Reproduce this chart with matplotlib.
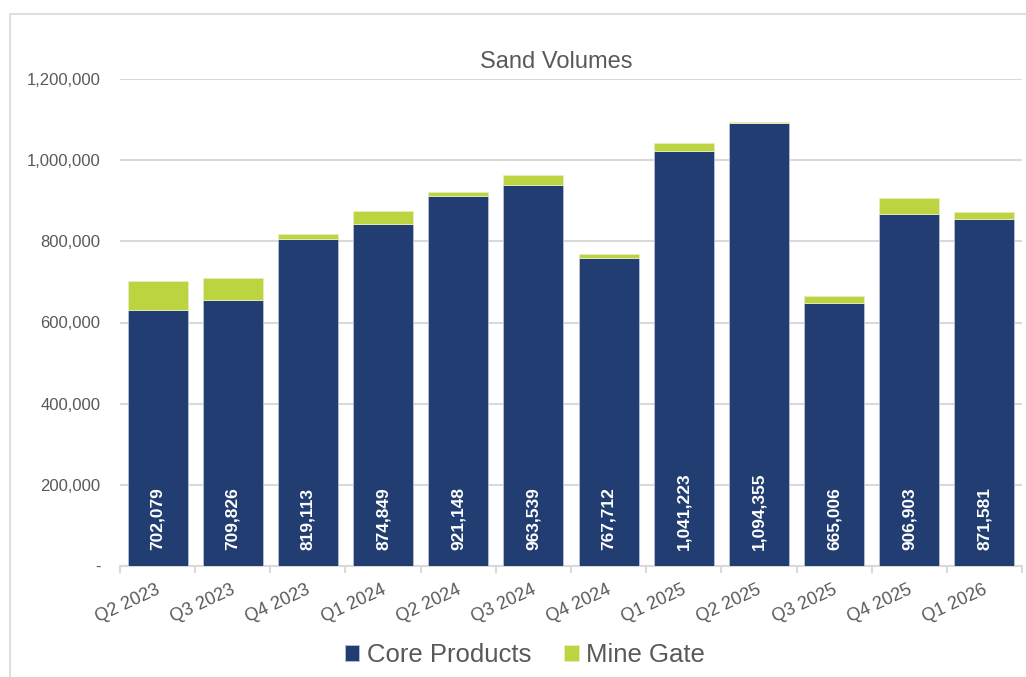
import matplotlib
matplotlib.use("Agg")
import matplotlib.pyplot as plt
import matplotlib.transforms as mtransforms
from matplotlib.patches import Rectangle
from matplotlib.ticker import FuncFormatter, FixedLocator
import numpy as np

plt.rcParams['font.family'] = ['Liberation Sans', 'DejaVu Sans']

quarters = ["Q2 2023", "Q3 2023", "Q4 2023", "Q1 2024", "Q2 2024", "Q3 2024",
            "Q4 2024", "Q1 2025", "Q2 2025", "Q3 2025", "Q4 2025", "Q1 2026"]
core_products = [632000, 655000, 806000, 843000, 912000, 940000,
                 759000, 1023000, 1091000, 649000, 867000, 855000]
mine_gate = [70079, 54826, 13113, 31849, 9148, 23539,
             8712, 18223, 3355, 16006, 39903, 16581]

NAVY = '#213D71'
GREEN = '#BDD441'
GRID = '#D9D9D9'
TXT = '#595959'

fig = plt.figure(figsize=(10.26, 6.77), dpi=100)
fig.patches.append(Rectangle((10/1026, -0.1), 1.2, 1 - 14/677 + 0.1,
                             transform=fig.transFigure, fill=False,
                             edgecolor=GRID, lw=1.2))
ax = fig.add_axes([120/1026, 111/677, 902/1026, 487/677])

x = np.arange(len(quarters))
totals = [c + m for c, m in zip(core_products, mine_gate)]
ax.bar(x, core_products, width=0.8, color=NAVY, edgecolor='#B8C2D6', lw=0.6,
       label='Core Products', zorder=3)
ax.bar(x, mine_gate, width=0.8, bottom=core_products, color=GREEN,
       edgecolor='#E6EEC0', lw=0.6, label='Mine Gate', zorder=3)

for xi, t in zip(x, totals):
    ax.annotate(f"{t:,}", xy=(xi, 0), xytext=(0, 11.5), textcoords='offset points',
                rotation=90, ha='center', va='bottom', color='white',
                fontsize=12.5, fontweight='bold', zorder=5)

ax.set_xlim(-0.5, len(quarters) - 0.5)
ax.set_ylim(0, 1200000)
ax.yaxis.set_major_locator(FixedLocator(np.arange(0, 1200001, 200000)))
ax.yaxis.set_major_formatter(FuncFormatter(lambda v, p: '-' if v == 0 else f"{int(v):,}"))
ax.grid(axis='y', color=GRID, lw=1.5, zorder=0)
ax.set_axisbelow(True)
for s in ['left', 'right', 'top']:
    ax.spines[s].set_visible(False)
ax.spines['bottom'].set_color(GRID)
ax.spines['bottom'].set_linewidth(1.5)
ax.tick_params(axis='y', length=0, pad=14, labelsize=12, labelcolor=TXT)

ax.set_xticks(x)
ax.set_xticklabels(quarters, rotation=25, ha='right', va='top',
                   rotation_mode='anchor', fontsize=13, color=TXT)
ax.tick_params(axis='x', which='major', length=0, pad=11)
ax.set_xticks(np.arange(-0.5, len(quarters), 1.0), minor=True)
ax.tick_params(axis='x', which='minor', length=5, color=GRID, width=1.5)
offset = mtransforms.ScaledTranslation(-2/100, 0, fig.dpi_scale_trans)
for lab in ax.get_xticklabels():
    lab.set_transform(lab.get_transform() + offset)

fig.text(556/1026, 1 - 62/677, 'Sand Volumes', ha='center', va='center',
         fontsize=17, color=TXT)

fig.legend(loc='center', bbox_to_anchor=(525/1026, 1 - 655/677), ncol=2,
           frameon=False, fontsize=18.5, labelcolor=TXT, handlelength=0.55,
           handleheight=0.55, handletextpad=0.3, columnspacing=1.3)

fig.savefig('out.png', dpi=100)
